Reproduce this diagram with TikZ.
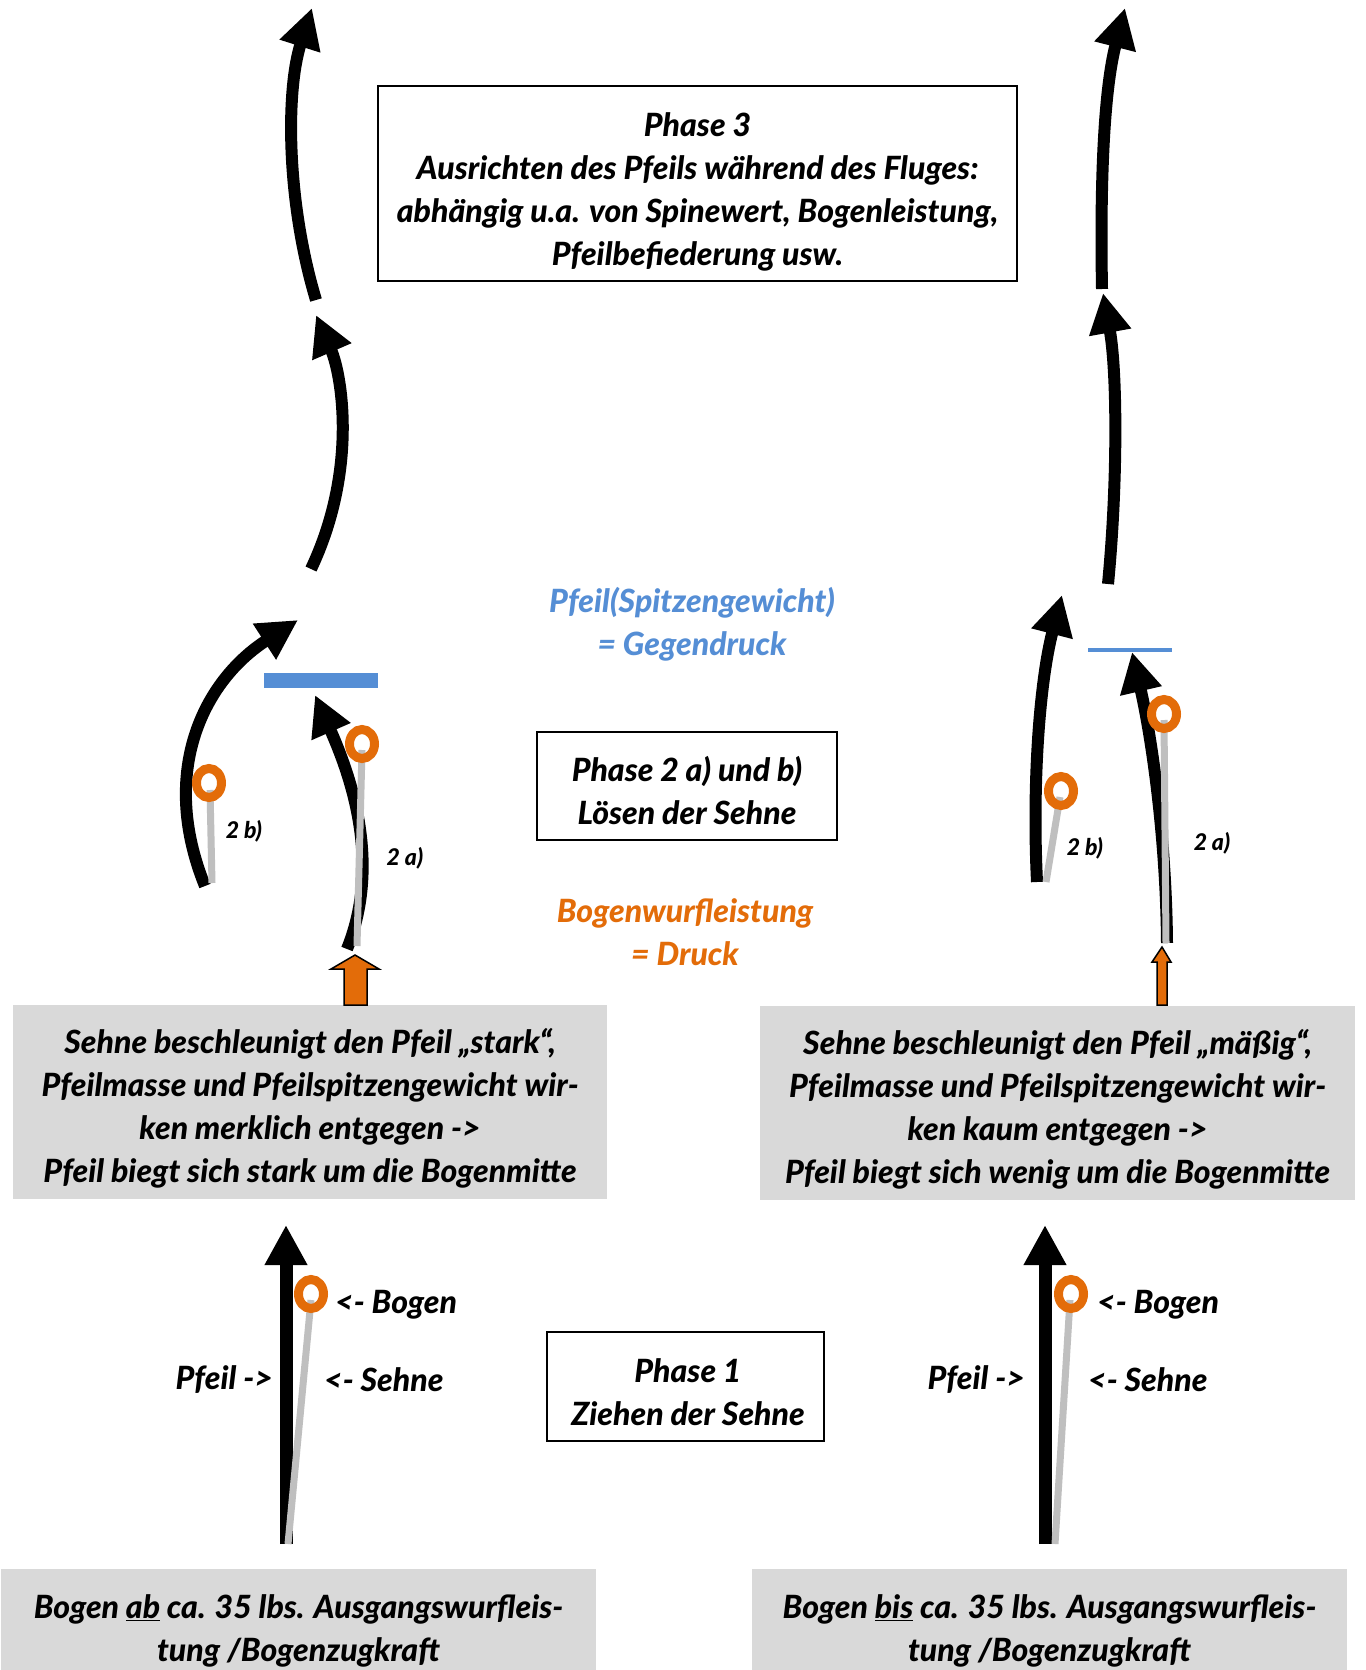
\documentclass[tikz,border=0pt]{standalone}
\usepackage{fontspec}
\setmainfont{Lato}[BoldItalicFont={Lato Black Italic}]
\usetikzlibrary{arrows.meta,shapes.geometric}
\definecolor{orng}{HTML}{E36C09}
\definecolor{blu}{HTML}{558ED5}
\definecolor{gfill}{HTML}{D9D9D9}
\definecolor{gline}{HTML}{BFBFBF}
\tikzset{
  bigarrow/.style={line width=12pt, black, -{Triangle[length=40pt,width=40pt]}},
  txt/.style={font=\fontsize{32}{43}\selectfont\bfseries\itshape, align=center, inner sep=0pt},
  smalltxt/.style={font=\fontsize{23}{26}\selectfont\bfseries\itshape, inner sep=0pt},
  whitebox/.style={draw=black, line width=1.5pt, fill=white, inner sep=0pt},
  graybox/.style={fill=gfill, inner sep=0pt},
  ringnode/.style={shape=ellipse, draw=orng, line width=9pt, minimum width=25pt, minimum height=29pt, inner sep=0pt},
  stringline/.style={gline, line width=7pt},
  blockarrow/.style={draw=black, line width=1.5pt, fill=orng, line join=miter},
}
\begin{document}
\begin{tikzpicture}[x=1pt,y=-1pt]
\useasboundingbox[fill=white] (0,0) rectangle (1365,1670);

% ---------- boxes ----------
\node[whitebox, minimum width=639pt, minimum height=195pt] (p3box) at (697.5,183.5) {};
\node[txt] (p3txt) at (697.5,191.5)
  {Phase 3\\Ausrichten des Pfeils während des Fluges:\\abhängig u.a. von Spinewert, Bogenleistung,\\Pfeilbefiederung usw.};
\node[whitebox, minimum width=300pt, minimum height=108pt] (p2box) at (687,786) {};
\node[txt] (p2txt) at (687,790.5) {Phase 2 a) und b)\\Lösen der Sehne};
\node[whitebox, minimum width=277pt, minimum height=109pt] (p1box) at (685.5,1386.5) {};
\node[txt] (p1txt) at (688,1392.5) {Phase 1\\Ziehen der Sehne};

\node[graybox, minimum width=594pt, minimum height=194pt] (gl) at (310,1102) {};
\node[txt] (gltxt) at (310,1108.5)
  {Sehne beschleunigt den Pfeil „stark“,\\Pfeilmasse und Pfeilspitzengewicht wir-\\ken merklich entgegen ->\\Pfeil biegt sich stark um die Bogenmitte};
\node[graybox, minimum width=595pt, minimum height=194pt] (gr) at (1057.5,1103) {};
\node[txt] (grtxt) at (1057.5,1109.5)
  {Sehne beschleunigt den Pfeil „mäßig“,\\Pfeilmasse und Pfeilspitzengewicht wir-\\ken kaum entgegen ->\\Pfeil biegt sich wenig um die Bogenmitte};

\node[graybox, minimum width=595pt, minimum height=117pt] (bl) at (298.5,1627.5) {};
\node[txt] (bltxt) at (298.5,1630.5) {Bogen \underline{ab} ca. 35 lbs. Ausgangswurfleis-\\tung /Bogenzugkraft};
\node[graybox, minimum width=595pt, minimum height=117pt] (br) at (1049.5,1627.5) {};
\node[txt] (brtxt) at (1049.5,1630.5) {Bogen \underline{bis} ca. 35 lbs. Ausgangswurfleis-\\tung /Bogenzugkraft};

% ---------- middle texts ----------
\node[txt, text=blu] (gegen) at (692,624) {Pfeil(Spitzengewicht)\\= Gegendruck};
\node[txt, text=orng] (druck) at (685,932) {Bogenwurfleistung\\= Druck};

% ---------- left column: phase 3 ----------
\coordinate (L3b) at (316,300); \coordinate (L3t) at (312,8);
\draw[bigarrow] (L3b) .. controls (286,200) and (286,90) .. (L3t);
\coordinate (L2b) at (311,569); \coordinate (L2t) at (316,315);
\draw[bigarrow] (L2b) .. controls (358,470) and (342,375) .. (L2t);

% ---------- right column: phase 3 ----------
\coordinate (R3b) at (1102,289); \coordinate (R3t) at (1125,8);
\draw[bigarrow] (R3b) .. controls (1100,180) and (1104,90) .. (R3t);
\coordinate (R2b) at (1108,584); \coordinate (R2t) at (1103,293);
\draw[bigarrow] (R2b) .. controls (1118,480) and (1117,370) .. (R2t);

% ---------- left column: phase 2 ----------
\fill[blu] (264,673) rectangle (378,688);
\coordinate (Lbb) at (205,886); \coordinate (Lbt) at (298,620);
\draw[bigarrow] (Lbb) .. controls (158,770) and (205,680) .. (Lbt);
\coordinate (Lab) at (347,949); \coordinate (Lat) at (315,695);
\draw[bigarrow] (Lab) .. controls (383,860) and (348,770) .. (Lat);

\coordinate (Lbg) at (212,883);
\draw[stringline] (210,790) -- (Lbg);
\node[ringnode] (ringLb) at (209,783) {};
\coordinate (Lag) at (357,946);
\draw[stringline] (362,750) -- (Lag);
\node[ringnode] (ringLa) at (362,744) {};

\node[smalltxt] (l2b) at (244,831) {2 b)};
\node[smalltxt] (l2a) at (405,858) {2 a)};

\draw[blockarrow] (355,955) -- (379,969) -- (367,969) -- (367,1005) -- (344,1005) -- (344,969) -- (331,969) -- cycle;

% ---------- right column: phase 2 ----------
\draw[blu, line width=4pt] (1088,650) -- (1172,650);
\coordinate (Rbb) at (1037,882); \coordinate (Rbt) at (1062,595);
\draw[bigarrow] (Rbb) .. controls (1032,780) and (1040,680) .. (Rbt);
\coordinate (Rab) at (1167,943); \coordinate (Rat) at (1132,652);
\draw[bigarrow] (Rab) .. controls (1166,830) and (1150,730) .. (Rat);

\coordinate (Rbg) at (1046,882);
\draw[stringline] (1060,797) -- (Rbg);
\node[ringnode] (ringRb) at (1061,791) {};
\coordinate (Rag) at (1166,943);
\draw[stringline] (1164,720) -- (Rag);
\node[ringnode] (ringRa) at (1164,714) {};

\node[smalltxt] (r2b) at (1085,848) {2 b)};
\node[smalltxt] (r2a) at (1212,843) {2 a)};

\draw[blockarrow] (1162,947) -- (1171,962) -- (1167,962) -- (1167,1005) -- (1157,1005) -- (1157,962) -- (1152,962) -- cycle;

% ---------- phase 1 ----------
\coordinate (P1Lb) at (286,1544); \coordinate (P1Lt) at (286,1225);
\draw[bigarrow, line width=13pt] (P1Lb) -- (P1Lt);
\coordinate (P1Lg) at (288,1544);
\draw[stringline] (311,1300) -- (P1Lg);
\node[ringnode] (ringP1L) at (311,1294) {};
\node[txt, anchor=west] (bogL) at (335,1305) {<- Bogen};
\node[txt, anchor=east] (pfL) at (273,1380) {Pfeil ->};
\node[txt, anchor=west] (seL) at (324,1380) {<- Sehne};

\coordinate (P1Rb) at (1045,1544); \coordinate (P1Rt) at (1045,1225);
\draw[bigarrow, line width=13pt] (P1Rb) -- (P1Rt);
\coordinate (P1Rg) at (1055,1544);
\draw[stringline] (1070,1300) -- (P1Rg);
\node[ringnode] (ringP1R) at (1071,1294) {};
\node[txt, anchor=west] (bogR) at (1097,1305) {<- Bogen};
\node[txt, anchor=east] (pfR) at (1025,1380) {Pfeil ->};
\node[txt, anchor=west] (seR) at (1088,1380) {<- Sehne};

\end{tikzpicture}
\end{document}
